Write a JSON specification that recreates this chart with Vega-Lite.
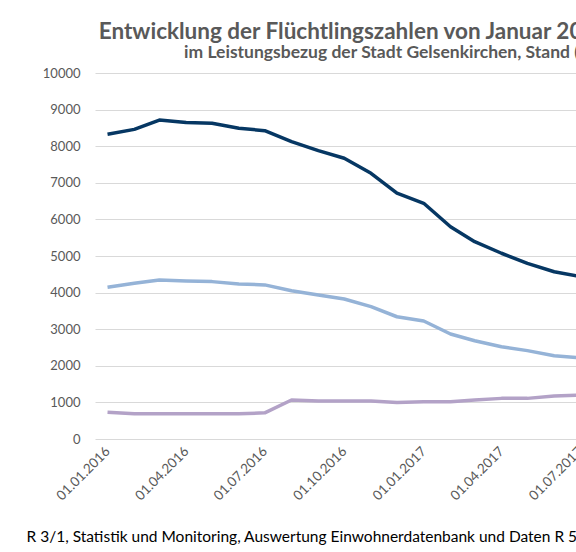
{
  "$schema": "https://vega.github.io/schema/vega-lite/v6.json",
  "width": 487,
  "height": 366,
  "autosize": {"type": "none"},
  "padding": {"left": 95, "top": 73, "right": 0, "bottom": 113},
  "background": "white",
  "config": {"view": {"stroke": null}},
  "title": {
    "text": "Entwicklung der Flüchtlingszahlen von Januar 2016 bis Juli 2017",
    "subtitle": "im Leistungsbezug der Stadt Gelsenkirchen, Stand (07/2017)",
    "anchor": "middle",
    "frame": "group",
    "dx": 80,
    "offset": 6,
    "font": "Lato",
    "fontSize": 22.5,
    "fontWeight": "bold",
    "color": "#595959",
    "subtitleFont": "Lato",
    "subtitleFontSize": 17.5,
    "subtitleFontWeight": "bold",
    "subtitleColor": "#595959",
    "subtitlePadding": 0
  },
  "data": {
    "values": [
      {"date": "2016-01-01", "serie": "Reihe 1", "value": 8325},
      {"date": "2016-02-01", "serie": "Reihe 1", "value": 8460},
      {"date": "2016-03-01", "serie": "Reihe 1", "value": 8715},
      {"date": "2016-04-01", "serie": "Reihe 1", "value": 8645},
      {"date": "2016-05-01", "serie": "Reihe 1", "value": 8625},
      {"date": "2016-06-01", "serie": "Reihe 1", "value": 8490},
      {"date": "2016-07-01", "serie": "Reihe 1", "value": 8425},
      {"date": "2016-08-01", "serie": "Reihe 1", "value": 8125},
      {"date": "2016-09-01", "serie": "Reihe 1", "value": 7880},
      {"date": "2016-10-01", "serie": "Reihe 1", "value": 7670},
      {"date": "2016-11-01", "serie": "Reihe 1", "value": 7260},
      {"date": "2016-12-01", "serie": "Reihe 1", "value": 6715},
      {"date": "2017-01-01", "serie": "Reihe 1", "value": 6440},
      {"date": "2017-02-01", "serie": "Reihe 1", "value": 5800},
      {"date": "2017-03-01", "serie": "Reihe 1", "value": 5390},
      {"date": "2017-04-01", "serie": "Reihe 1", "value": 5075},
      {"date": "2017-05-01", "serie": "Reihe 1", "value": 4800},
      {"date": "2017-06-01", "serie": "Reihe 1", "value": 4570},
      {"date": "2017-07-01", "serie": "Reihe 1", "value": 4440},
      {"date": "2016-01-01", "serie": "Reihe 2", "value": 4145},
      {"date": "2016-02-01", "serie": "Reihe 2", "value": 4255},
      {"date": "2016-03-01", "serie": "Reihe 2", "value": 4345},
      {"date": "2016-04-01", "serie": "Reihe 2", "value": 4315},
      {"date": "2016-05-01", "serie": "Reihe 2", "value": 4300},
      {"date": "2016-06-01", "serie": "Reihe 2", "value": 4235},
      {"date": "2016-07-01", "serie": "Reihe 2", "value": 4210},
      {"date": "2016-08-01", "serie": "Reihe 2", "value": 4050},
      {"date": "2016-09-01", "serie": "Reihe 2", "value": 3935},
      {"date": "2016-10-01", "serie": "Reihe 2", "value": 3825},
      {"date": "2016-11-01", "serie": "Reihe 2", "value": 3615},
      {"date": "2016-12-01", "serie": "Reihe 2", "value": 3340},
      {"date": "2017-01-01", "serie": "Reihe 2", "value": 3225},
      {"date": "2017-02-01", "serie": "Reihe 2", "value": 2870},
      {"date": "2017-03-01", "serie": "Reihe 2", "value": 2685},
      {"date": "2017-04-01", "serie": "Reihe 2", "value": 2520},
      {"date": "2017-05-01", "serie": "Reihe 2", "value": 2415},
      {"date": "2017-06-01", "serie": "Reihe 2", "value": 2275},
      {"date": "2017-07-01", "serie": "Reihe 2", "value": 2215},
      {"date": "2016-01-01", "serie": "Reihe 3", "value": 730},
      {"date": "2016-02-01", "serie": "Reihe 3", "value": 690},
      {"date": "2016-03-01", "serie": "Reihe 3", "value": 690},
      {"date": "2016-04-01", "serie": "Reihe 3", "value": 690},
      {"date": "2016-05-01", "serie": "Reihe 3", "value": 690},
      {"date": "2016-06-01", "serie": "Reihe 3", "value": 690},
      {"date": "2016-07-01", "serie": "Reihe 3", "value": 715},
      {"date": "2016-08-01", "serie": "Reihe 3", "value": 1065},
      {"date": "2016-09-01", "serie": "Reihe 3", "value": 1040},
      {"date": "2016-10-01", "serie": "Reihe 3", "value": 1040},
      {"date": "2016-11-01", "serie": "Reihe 3", "value": 1040},
      {"date": "2016-12-01", "serie": "Reihe 3", "value": 995},
      {"date": "2017-01-01", "serie": "Reihe 3", "value": 1020},
      {"date": "2017-02-01", "serie": "Reihe 3", "value": 1020},
      {"date": "2017-03-01", "serie": "Reihe 3", "value": 1065},
      {"date": "2017-04-01", "serie": "Reihe 3", "value": 1110},
      {"date": "2017-05-01", "serie": "Reihe 3", "value": 1110},
      {"date": "2017-06-01", "serie": "Reihe 3", "value": 1175},
      {"date": "2017-07-01", "serie": "Reihe 3", "value": 1200}
    ]
  },
  "mark": {"type": "line", "strokeWidth": 3.5, "strokeJoin": "round"},
  "encoding": {
    "x": {
      "field": "date",
      "type": "temporal",
      "scale": {
        "type": "utc",
        "domain": [
          {"year": 2015, "month": 12, "date": 17, "hours": 12, "utc": true},
          {"year": 2017, "month": 7, "date": 3, "hours": 5, "utc": true}
        ]
      },
      "axis": {
        "values": [
          {"year": 2016, "month": 1, "date": 1, "utc": true},
          {"year": 2016, "month": 4, "date": 1, "utc": true},
          {"year": 2016, "month": 7, "date": 1, "utc": true},
          {"year": 2016, "month": 10, "date": 1, "utc": true},
          {"year": 2017, "month": 1, "date": 1, "utc": true},
          {"year": 2017, "month": 4, "date": 1, "utc": true},
          {"year": 2017, "month": 7, "date": 1, "utc": true}
        ],
        "labelExpr": "utcFormat(datum.value, '%d.%m.%Y')",
        "labelAngle": -45,
        "labelAlign": "right",
        "labelBaseline": "middle",
        "labelPadding": 10,
        "labelFlush": false,
        "labelOverlap": false,
        "labelBound": false,
        "labelFont": "Lato",
        "labelFontSize": 13.5,
        "labelColor": "#595959",
        "ticks": false,
        "tickSize": 0,
        "domain": false,
        "grid": false,
        "title": "R 3/1, Statistik und Monitoring, Auswertung Einwohnerdatenbank und Daten R 5",
        "titleAnchor": "start",
        "titleAlign": "left",
        "titleX": -69,
        "titleY": 102,
        "titleBaseline": "alphabetic",
        "titleFont": "Lato",
        "titleFontSize": 15.5,
        "titleFontWeight": "normal",
        "titleColor": "#000000"
      }
    },
    "y": {
      "field": "value",
      "type": "quantitative",
      "scale": {"domain": [0, 10000], "nice": false},
      "axis": {
        "values": [0, 1000, 2000, 3000, 4000, 5000, 6000, 7000, 8000, 9000, 10000],
        "format": "d",
        "grid": true,
        "gridColor": "#d9d9d9",
        "gridWidth": 1.2,
        "domain": false,
        "ticks": false,
        "tickSize": 0,
        "labelPadding": 15,
        "labelFont": "Lato",
        "labelFontSize": 13,
        "labelColor": "#595959",
        "title": null
      }
    },
    "color": {
      "field": "serie",
      "type": "nominal",
      "scale": {"domain": ["Reihe 1", "Reihe 2", "Reihe 3"], "range": ["#063763", "#95b3d7", "#b3a2c7"]},
      "legend": null
    }
  }
}
